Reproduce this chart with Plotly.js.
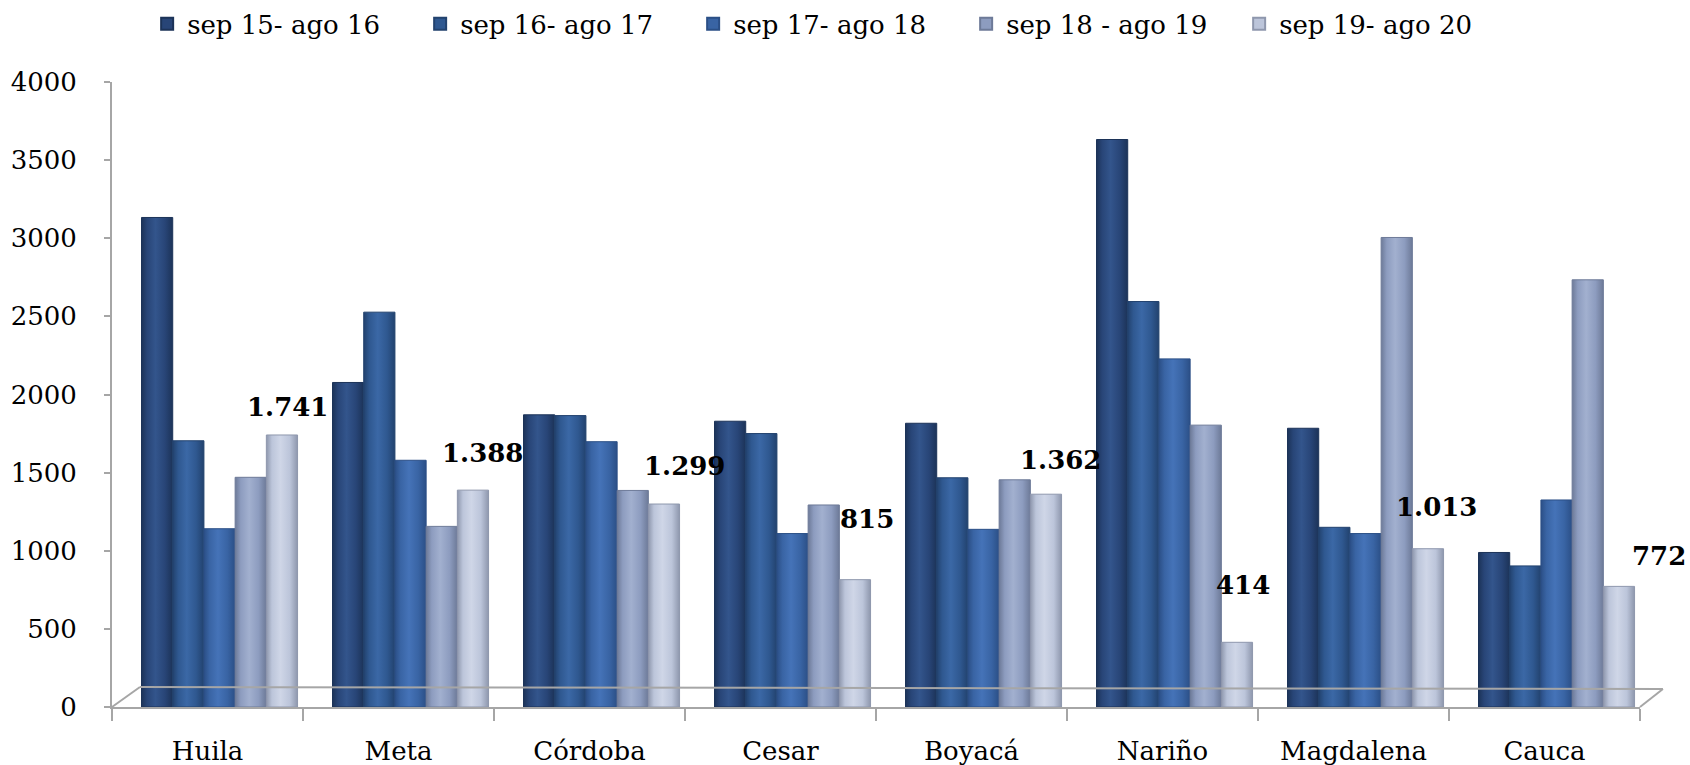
<!DOCTYPE html>
<html>
<head>
<meta charset="utf-8">
<script src="https://cdn.plot.ly/plotly-3.0.1.min.js"></script>
<style>
  html, body { margin: 0; padding: 0; background: #ffffff; }
  #chart { width: 1690px; height: 765px; }
</style>
</head>
<body>
<div id="chart"></div>
<script>
// ---- data ----
const categories = ['Huila', 'Meta', 'Córdoba', 'Cesar', 'Boyacá', 'Nariño', 'Magdalena', 'Cauca'];
const seriesNames = ['sep 15- ago 16', 'sep 16- ago 17', 'sep 17- ago 18', 'sep 18 - ago 19', 'sep 19- ago 20'];
const sep15_ago16 = [3133, 2077, 1870, 1829, 1816, 3632, 1784, 989];
const sep16_ago17 = [1704, 2527, 1865, 1750, 1467, 2595, 1150, 903];
const sep17_ago18 = [1141, 1579, 1698, 1110, 1137, 2228, 1110, 1325];
const sep18_ago19 = [1470, 1156, 1386, 1293, 1454, 1804, 3005, 2734];
const sep19_ago20 = [1741, 1388, 1299, 815, 1362, 414, 1013, 772];
const yTicks = [0, 500, 1000, 1500, 2000, 2500, 3000, 3500, 4000];

// ---- style ----
const colors = ['#284577', '#2f5890', '#3964a4', '#8d9cbf', '#bcc5da'];
const edge = ['#1c3358', '#22426e', '#2b4f86', '#6d7a98', '#8e97ad'];
const light = ['#33558c', '#3b68a6', '#4573b8', '#a2b0cf', '#cfd6e7'];
const barW = 0.1634;
const groupShift = 0.063;
const labelYShift = [28, 37, 38, 61, 34, 57, 42, 30];
const labelXShift = [6, 10, 21, 12, 15, 6, 9, 40];
const serifFont = 'DejaVu Serif, Liberation Serif, serif';

const allSeries = [sep15_ago16, sep16_ago17, sep17_ago18, sep18_ago19, sep19_ago20];
const traces = allSeries.map((vals, j) => ({
  type: 'bar',
  name: seriesNames[j],
  x: categories,
  y: vals,
  width: barW,
  offset: -2.5 * barW + j * barW + groupShift,
  marker: { color: colors[j], line: { color: edge[j], width: 1 } },
  hoverinfo: 'x+y+name'
}));

function fmt(v) {
  return String(v).replace(/\B(?=(\d{3})+(?!\d))/g, '.');
}

const annotations = sep19_ago20.map((v, i) => ({
  x: i - 2.5 * barW + 4.5 * barW + groupShift,
  y: v,
  xref: 'x', yref: 'y',
  text: '<b>' + fmt(v) + '</b>',
  showarrow: false,
  xanchor: 'center', yanchor: 'middle',
  xshift: labelXShift[i],
  yshift: labelYShift[i],
  font: { family: serifFont, size: 26, color: '#000000' }
}));

// floor of the 3D chart (decoration)
const gray = '#a6a6a6';
const shapes = [
  { type: 'line', xref: 'paper', yref: 'paper', x0: 0, y0: 0, x1: 0.0183, y1: 0.032, line: { color: gray, width: 2 } },
  { type: 'line', xref: 'paper', yref: 'paper', x0: 0.0183, y0: 0.032, x1: 1.015, y1: 0.0288, line: { color: gray, width: 2 } },
  { type: 'line', xref: 'paper', yref: 'paper', x0: 1.015, y0: 0.0288, x1: 1, y1: 0, line: { color: gray, width: 2 } }
];

const layout = {
  width: 1690,
  height: 765,
  margin: { l: 112, r: 50, t: 82, b: 58, autoexpand: false },
  paper_bgcolor: '#ffffff',
  plot_bgcolor: '#ffffff',
  barmode: 'overlay',
  showlegend: true,
  legend: {
    orientation: 'h',
    x: 0.023, xanchor: 'left',
    y: 1.093, yanchor: 'middle',
    font: { family: serifFont, size: 26, color: '#000000' },
    entrywidth: 228,
    entrywidthmode: 'pixels',
    itemsizing: 'constant',
    traceorder: 'normal'
  },
  xaxis: {
    type: 'category',
    range: [-0.5, 7.5],
    showline: true,
    linecolor: gray,
    linewidth: 2,
    ticks: 'outside',
    tickson: 'boundaries',
    ticklen: 12,
    tickcolor: gray,
    tickwidth: 2,
    ticklabelstandoff: 20,
    tickfont: { family: serifFont, size: 26, color: '#000000' },
    showgrid: false,
    zeroline: false,
    fixedrange: true
  },
  yaxis: {
    range: [0, 4000],
    tickmode: 'array',
    tickvals: yTicks,
    ticktext: yTicks.map(String),
    showline: true,
    linecolor: gray,
    linewidth: 2,
    ticks: 'outside',
    ticklen: 6,
    tickcolor: gray,
    tickwidth: 2,
    ticklabelstandoff: 22,
    tickfont: { family: serifFont, size: 26, color: '#000000' },
    showgrid: false,
    zeroline: false,
    fixedrange: true
  },
  annotations: annotations,
  shapes: shapes
};

Plotly.newPlot('chart', traces, layout, { displayModeBar: false, responsive: false }).then(gd => {
  // cylinder-like horizontal shading on the bars drawn by Plotly
  const svgNS = 'http://www.w3.org/2000/svg';
  const svg = gd.querySelector('svg.main-svg');
  let defs = svg.querySelector('defs');
  if (!defs) { defs = document.createElementNS(svgNS, 'defs'); svg.insertBefore(defs, svg.firstChild); }
  colors.forEach((c, j) => {
    const g = document.createElementNS(svgNS, 'linearGradient');
    g.setAttribute('id', 'cyl' + j);
    g.setAttribute('x1', '0'); g.setAttribute('y1', '0');
    g.setAttribute('x2', '1'); g.setAttribute('y2', '0');
    [[0, edge[j]], [0.18, c], [0.45, light[j]], [0.75, c], [1, edge[j]]].forEach(([o, col]) => {
      const s = document.createElementNS(svgNS, 'stop');
      s.setAttribute('offset', o);
      s.setAttribute('stop-color', col);
      g.appendChild(s);
    });
    defs.appendChild(g);
  });
  const traceGroups = gd.querySelectorAll('.barlayer .trace');
  traceGroups.forEach((tg, j) => {
    tg.querySelectorAll('.point path').forEach(p => {
      p.style.fill = 'url(#cyl' + j + ')';
    });
  });
});
</script>
</body>
</html>
